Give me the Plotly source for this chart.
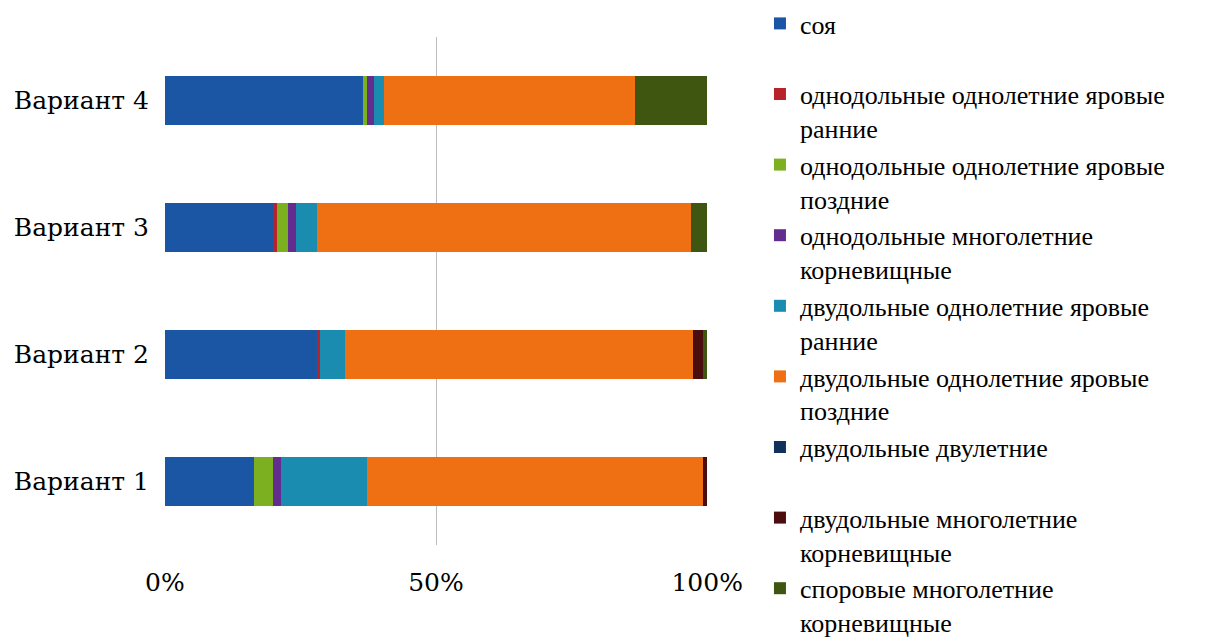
import plotly.graph_objects as go

# Weed-community composition by variant (share of total, %)
variants = ["Вариант 1", "Вариант 2", "Вариант 3", "Вариант 4"]

groups = [
    "соя<br>\u00a0",
    "однодольные однолетние яровые<br>ранние",
    "однодольные однолетние яровые<br>поздние",
    "однодольные многолетние<br>корневищные",
    "двудольные однолетние яровые<br>ранние",
    "двудольные однолетние яровые<br>поздние",
    "двудольные двулетние<br>\u00a0",
    "двудольные многолетние<br>корневищные",
    "споровые многолетние<br>корневищные",
]

soy = [16.4, 28.1, 20.0, 36.6]
mono_annual_early = [0.0, 0.6, 0.6, 0.0]
mono_annual_late = [3.6, 0.0, 2.1, 0.8]
mono_perennial_rhiz = [1.4, 0.0, 1.4, 1.2]
di_annual_early = [15.9, 4.5, 4.0, 1.8]
di_annual_late = [62.0, 64.3, 68.9, 46.4]
di_biennial = [0.0, 0.0, 0.0, 0.0]
di_perennial_rhiz = [0.7, 1.8, 0.0, 0.0]
spore_perennial_rhiz = [0.0, 0.8, 3.0, 13.3]

series = [
    soy, mono_annual_early, mono_annual_late, mono_perennial_rhiz,
    di_annual_early, di_annual_late, di_biennial, di_perennial_rhiz,
    spore_perennial_rhiz,
]

colors = [
    "#1a56a3", "#b8222a", "#7db021", "#632d8f",
    "#1a8cb0", "#ef6f13", "#10315c", "#4b0e0e", "#3e560f",
]

axis_font = "DejaVu Serif"
legend_font = "Liberation Serif"

fig = go.Figure()
for name, vals, col in zip(groups, series, colors):
    fig.add_trace(go.Bar(
        y=variants, x=vals, name=name, orientation="h",
        marker=dict(color=col, line=dict(width=0)),
    ))

fig.update_layout(
    width=1214, height=642,
    barmode="stack", barnorm="percent", bargap=0.614,
    paper_bgcolor="white", plot_bgcolor="white",
    margin=dict(l=164, r=506, t=37, b=97),
    font=dict(family=axis_font, size=25, color="black"),
    showlegend=True,
    legend=dict(
        xref="container", yref="container",
        x=0.626, y=1.0, xanchor="left", yanchor="top",
        valign="top", traceorder="normal",
        font=dict(family=legend_font, size=26, color="black"),
        tracegroupgap=0, itemwidth=30, maxheight=900,
        bgcolor="rgba(0,0,0,0)",
    ),
    xaxis=dict(
        range=[-0.15, 100.15], tickvals=[0, 50, 100], ticktext=["0%", "50%", "100%"],
        showgrid=True, gridcolor="#bdbdbd", gridwidth=1,
        zeroline=False, showline=False, ticks="",
        ticklabelstandoff=20, fixedrange=True,
    ),
    yaxis=dict(
        categoryorder="array", categoryarray=variants,
        showgrid=False, zeroline=False, showline=False, ticks="",
        ticklabelstandoff=14, fixedrange=True,
    ),
)

fig.write_html("out.html")
